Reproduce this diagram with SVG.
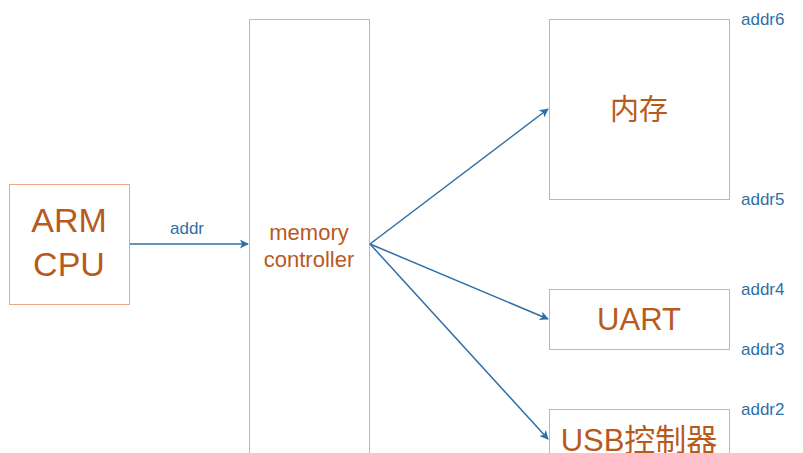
<svg xmlns="http://www.w3.org/2000/svg" width="803" height="453" viewBox="0 0 803 453">
<style>
.box{fill:#fff;stroke:#EBA787;stroke-width:1}
.t{fill:#B85A1E;font-family:"Liberation Sans","Noto Sans CJK SC",sans-serif;text-anchor:middle}
.a{fill:#2E6FA8;font-family:"Liberation Sans",sans-serif;font-size:17px}
.c{stroke:#2E6FA8;stroke-width:1.5;fill:none;marker-end:url(#ar)}
</style>
<defs><marker id="ar" viewBox="0 0 10 10" refX="9" refY="5" markerWidth="10" markerHeight="9" orient="auto" markerUnits="userSpaceOnUse"><path d="M0,0L10,5L0,10L2.5,5z" fill="#2E6FA8"/></marker></defs>
<rect width="803" height="453" fill="#fff"/>
<g id="cpu"><rect class="box" x="9.5" y="184.5" width="120" height="120"/><text class="t" x="69" y="232" font-size="34">ARM</text><text class="t" x="69" y="276" font-size="34">CPU</text></g>
<g id="mc"><rect class="box" x="249.5" y="19.5" width="120" height="450"/><text class="t" x="309" y="240" font-size="22">memory</text><text class="t" x="309" y="267" font-size="22">controller</text></g>
<g id="mem"><rect class="box" x="549.5" y="19.5" width="180" height="180"/><text class="t" x="639" y="120" font-size="29">内存</text></g>
<g id="uart"><rect class="box" x="549.5" y="289.5" width="180" height="60"/><text class="t" x="639" y="330" font-size="31">UART</text></g>
<g id="usb"><rect class="box" x="549.5" y="409.5" width="180" height="60"/><text class="t" x="639" y="451" font-size="31">USB控制器</text></g>
<g id="labels">
<text class="a" x="170" y="234">addr</text>
<text class="a" x="741" y="25">addr6</text>
<text class="a" x="741" y="205">addr5</text>
<text class="a" x="741" y="295">addr4</text>
<text class="a" x="741" y="355">addr3</text>
<text class="a" x="741" y="415">addr2</text>
</g>
<g id="connectors">
<line class="c" x1="130" y1="244" x2="248" y2="244"/>
<line class="c" x1="370" y1="244" x2="548" y2="109"/>
<line class="c" x1="370" y1="244" x2="548" y2="319"/>
<line class="c" x1="370" y1="244" x2="548" y2="439"/>
</g>
</svg>
